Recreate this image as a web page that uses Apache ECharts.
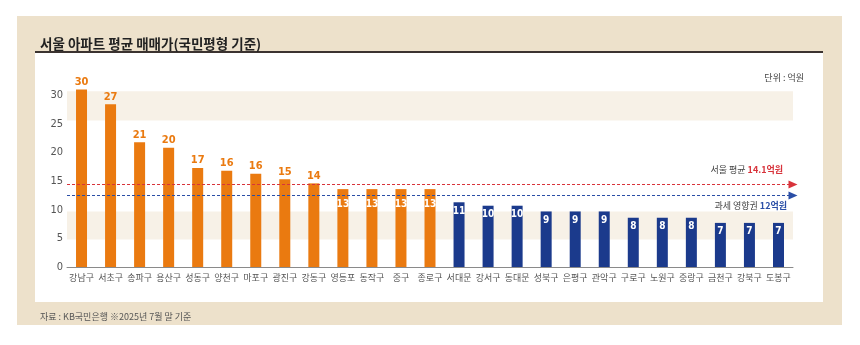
<!DOCTYPE html>
<html>
<head>
<meta charset="utf-8">
<script src="https://cdn.jsdelivr.net/npm/echarts@6/dist/echarts.min.js"></script>
<style>
html,body{margin:0;padding:0;background:#fff;}
#c{width:860px;height:345px;}
</style>
</head>
<body>
<div id="c"></div>
<script>
// ---- data ----
const districts = ['강남구','서초구','송파구','용산구','성동구','양천구','마포구','광진구','강동구','영등포','동작구','중구','종로구','서대문','강서구','동대문','성북구','은평구','관악구','구로구','노원구','중랑구','금천구','강북구','도봉구'];
// bar heights as drawn in the picture (억원)
const prices = [31.0,28.4,21.8,20.8,17.3,16.8,16.3,15.3,14.6,13.6,13.6,13.6,13.6,11.3,10.7,10.7,9.7,9.7,9.7,8.6,8.6,8.6,7.7,7.7,7.7];
// printed value labels
const priceLabels = ['30','27','21','20','17','16','16','15','14','13','13','13','13','11','10','10','9','9','9','8','8','8','7','7','7'];
// 1 = above tax threshold group (orange), 0 = below (navy)
const group = [1,1,1,1,1,1,1,1,1,1,1,1,1,0,0,0,0,0,0,0,0,0,0,0,0];
const yTicks = [0,5,10,15,20,25,30];
const refLines = [
  {name:'서울 평균 ', valueText:'14.1억원', y:14.4},
  {name:'과세 영향권 ', valueText:'12억원', y:12.5}
];
const bands = [[4.8,9.7],[25.6,30.7]];

const ORANGE = '#ea7a10', NAVY = '#1b3a8c';
const FONT = "'Noto Sans CJK KR', sans-serif";
const NUMFONT = "'DejaVu Sans Condensed','Liberation Sans Narrow','Roboto', sans-serif";

const chart = echarts.init(document.getElementById('c'), null, {renderer:'canvas'});

const barData = prices.map((v,i)=>{
  const isOrange = group[i]===1;
  const above = isOrange && v >= 14;
  return {
    value: v,
    itemStyle: {color: isOrange ? ORANGE : NAVY},
    label: {
      show: true,
      formatter: priceLabels[i],
      position: above ? 'top' : 'insideTop',
      distance: above ? 2 : (isOrange ? 10 : 4),
      fontSize: above ? 11 : 10,
      color: above ? ORANGE : '#fff'
    }
  };
});

chart.setOption({
  animation:false,
  backgroundColor:'#fff',
  title:[
    {text:'서울 아파트 평균 매매가(국민평형 기준)', left:35, top:32,
     textStyle:{fontFamily:FONT, fontSize:13.5, fontWeight:'bold', color:'#222'}},
    {text:'단위 : 억원', right:51, top:68,
     textStyle:{fontFamily:FONT, fontSize:9, fontWeight:'normal', color:'#444'}},
    {text:'자료 : KB국민은행 ※2025년 7월 말 기준', left:35, top:307,
     textStyle:{fontFamily:FONT, fontSize:9, fontWeight:'normal', color:'#555'}}
  ],
  graphic:[
    {type:'rect', z:-10, silent:true, shape:{x:17,y:16,width:825,height:309}, style:{fill:'#ede1cb'}},
    {type:'rect', z:-9, silent:true, shape:{x:35,y:52,width:788,height:250}, style:{fill:'#ffffff'}},
    {type:'line', z:-8, silent:true, shape:{x1:35,y1:52,x2:823,y2:52}, style:{stroke:'#3b3330', lineWidth:2}}
  ],
  grid:{left:67, right:67, top:78, bottom:78, containLabel:false},
  xAxis:{
    type:'category', data:districts,
    axisLine:{lineStyle:{color:'#8a8a8a', width:1}},
    axisTick:{show:false},
    axisLabel:{fontFamily:FONT, fontSize:9, color:'#555', margin:6, interval:0}
  },
  yAxis:{
    type:'value', min:0, max:33, interval:5,
    axisLine:{show:false}, axisTick:{show:false}, splitLine:{show:false},
    axisLabel:{fontFamily:NUMFONT, fontSize:11, color:'#555', margin:4, showMaxLabel:false,
      formatter:(v)=> yTicks.indexOf(v)>=0 ? String(v) : ''}
  },
  series:[{
    type:'bar',
    data:barData,
    barWidth:11,
    label:{fontFamily:NUMFONT, fontWeight:'bold'},
    markArea:{
      silent:true,
      itemStyle:{color:'#f7f1e7'},
      data: bands.map(b=>[{yAxis:b[0]},{yAxis:b[1]}])
    },
    markLine:{
      silent:true,
      symbol:['none','triangle'],
      symbolSize:[8,9],
      data: refLines.map((r,i)=>({
        yAxis:r.y,
        lineStyle:{color: i===0 ? '#d8333b' : '#2a4ea6', type:[3,2], width:1},
        itemStyle:{color: i===0 ? '#d8333b' : '#2a4ea6'},
        label:{
          show:true,
          position: i===0 ? 'insideEndTop' : 'insideEndBottom',
          distance: i===0 ? 10 : 6,
          formatter: '{a|'+r.name+'}{'+(i===0?'r':'b')+'|'+r.valueText+'}',
          rich:{
            a:{fontFamily:FONT, fontSize:9, color:'#444'},
            r:{fontFamily:FONT, fontSize:9, color:'#d8333b', fontWeight:'bold'},
            b:{fontFamily:FONT, fontSize:9, color:'#2a4ea6', fontWeight:'bold'}
          }
        }
      }))
    }
  }]
});
</script>
</body>
</html>
